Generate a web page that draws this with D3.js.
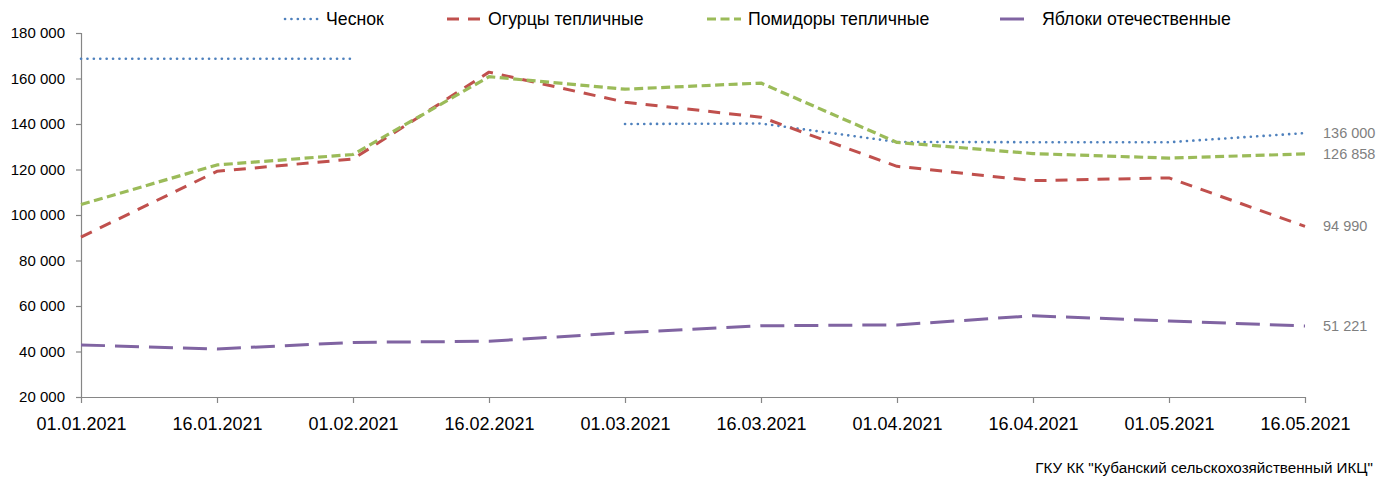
<!DOCTYPE html>
<html>
<head>
<meta charset="utf-8">
<script src="https://cdn.jsdelivr.net/npm/d3@7/dist/d3.min.js"></script>
<style>
  html, body { margin: 0; padding: 0; background: #fff; }
  svg { display: block; font-family: "Liberation Sans", Arial, sans-serif; }
</style>
</head>
<body>
<svg id="chart" width="1376" height="477"></svg>
<script>
// ---- data ----
const dates = ["01.01.2021","16.01.2021","01.02.2021","16.02.2021","01.03.2021","16.03.2021","01.04.2021","16.04.2021","01.05.2021","16.05.2021"];
const garlic   = [168700, 168700, 168700, null, 140000, 140200, 132100, 132000, 132000, 136000];
const cucumber = [90300, 119200, 124600, 162800, 149600, 143000, 121400, 115100, 116300, 94990];
const tomato   = [104600, 122000, 126600, 160800, 155300, 158000, 131900, 127000, 125000, 126858];
const apples   = [42900, 41100, 44000, 44500, 48300, 51300, 51700, 55700, 53400, 51221];
const seriesNames = ["Чеснок", "Огурцы тепличные", "Помидоры тепличные", "Яблоки отечественные"];
const yTicks = [20000, 40000, 60000, 80000, 100000, 120000, 140000, 160000, 180000];
const endLabels = ["136 000", "94 990", "126 858", "51 221"];
const sourceText = 'ГКУ КК "Кубанский сельскохозяйственный ИКЦ"';

// ---- styles ----
const styles = [
  { color: "#4f81bd", width: 2.6, dash: "0.1,6.3", cap: "round" },
  { color: "#c0504d", width: 3, dash: "12,9", cap: "butt" },
  { color: "#9bbb59", width: 3.2, dash: "9,4.5", cap: "butt" },
  { color: "#8064a2", width: 3, dash: "24,10", cap: "butt" }
];
const seriesData = [garlic, cucumber, tomato, apples];

const svg = d3.select("#chart");
const x = d3.scalePoint().domain(dates).range([81, 1305]);
const y = d3.scaleLinear().domain([20000, 180000]).range([397, 33]);
const fmt = v => d3.format(",")(v).replace(/,/g, " ");

// y axis
const yAxis = svg.append("g").attr("transform", "translate(81,0)")
  .call(d3.axisLeft(y).tickValues(yTicks).tickSize(5).tickPadding(11).tickFormat(fmt));
yAxis.select(".domain").attr("stroke", "#868686").attr("stroke-width", 1.2);
yAxis.selectAll(".tick line").attr("stroke", "#868686").attr("stroke-width", 1.2);
yAxis.selectAll(".tick text").attr("fill", "#000").style("font-size", "15px").style("font-family", "Liberation Sans, Arial, sans-serif");

// x axis
const xAxis = svg.append("g").attr("transform", "translate(0,397)")
  .call(d3.axisBottom(x).tickSize(6).tickSizeOuter(0).tickPadding(14));
xAxis.select(".domain").attr("stroke", "#868686").attr("stroke-width", 1.2).attr("d", "M81,0.5H1305");
xAxis.selectAll(".tick line").attr("stroke", "#868686").attr("stroke-width", 1.2);
xAxis.selectAll(".tick text").attr("fill", "#000").style("font-size", "18px").style("font-family", "Liberation Sans, Arial, sans-serif");

// lines
const line = d3.line()
  .defined(d => d.v !== null)
  .x(d => x(d.date))
  .y(d => y(d.v));

seriesData.forEach((arr, i) => {
  const pts = arr.map((v, j) => ({ date: dates[j], v }));
  svg.append("path")
    .datum(pts)
    .attr("fill", "none")
    .attr("stroke", styles[i].color)
    .attr("stroke-width", styles[i].width)
    .attr("stroke-dasharray", styles[i].dash)
    .attr("stroke-linecap", styles[i].cap)
    .attr("stroke-linejoin", "round")
    .attr("d", line);
});

// end labels
seriesData.forEach((arr, i) => {
  const last = arr[arr.length - 1];
  svg.append("text")
    .attr("x", x(dates[dates.length - 1]) + 18)
    .attr("y", y(last))
    .attr("dy", "0.35em")
    .attr("fill", "#7f7f7f")
    .style("font-size", "14.5px")
    .text(endLabels[i]);
});

// legend
const legendX = [[285, 320, 326], [447, 483, 488], [707, 741, 748], [1000, 1034, 1042]];
seriesNames.forEach((name, i) => {
  const g = svg.append("g");
  g.append("line")
    .attr("x1", legendX[i][0]).attr("x2", legendX[i][1])
    .attr("y1", 19).attr("y2", 19)
    .attr("stroke", styles[i].color)
    .attr("stroke-width", styles[i].width)
    .attr("stroke-dasharray", styles[i].dash)
    .attr("stroke-linecap", styles[i].cap);
  g.append("text")
    .attr("x", legendX[i][2]).attr("y", 19).attr("dy", "0.35em")
    .attr("fill", "#000")
    .style("font-size", "17.7px")
    .text(name);
});

// source
svg.append("text")
  .attr("x", 1373).attr("y", 468).attr("dy", "0.35em")
  .attr("text-anchor", "end")
  .attr("fill", "#000")
  .style("font-size", "15.2px")
  .text(sourceText);
</script>
</body>
</html>
